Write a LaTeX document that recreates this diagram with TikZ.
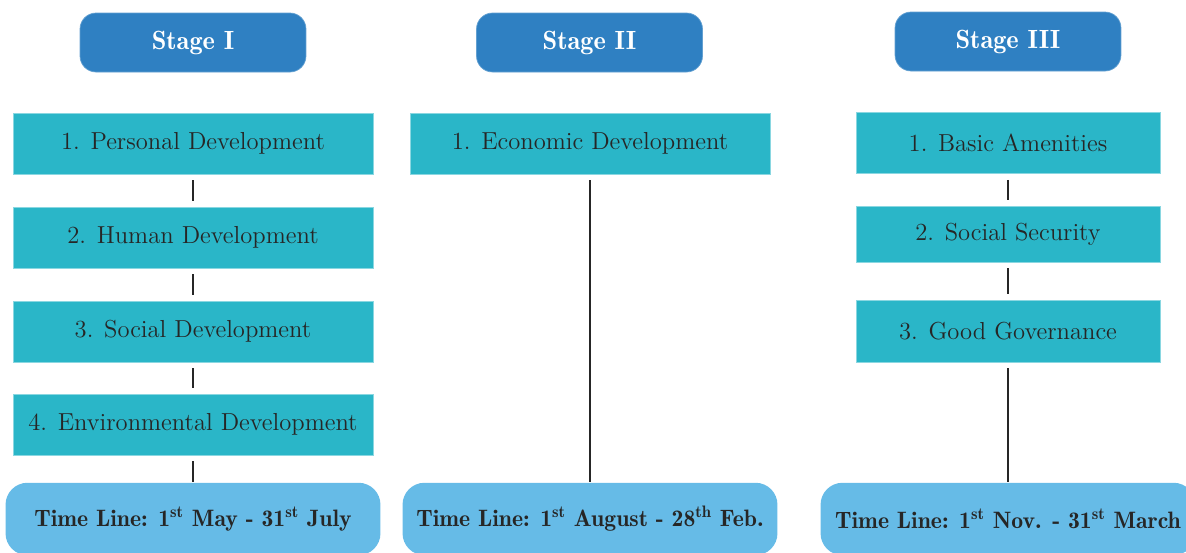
\documentclass[tikz,border=0pt]{standalone}
\usetikzlibrary{positioning}
\definecolor{stageblue}{HTML}{2F80C2}
\definecolor{itemteal}{HTML}{2AB6C8}
\definecolor{timeblue}{HTML}{66BBE7}
\definecolor{inkdark}{HTML}{262626}
\tikzset{
  stage/.style={rectangle, rounded corners=0.32cm, fill=stageblue, draw=stageblue!75!white,
    text=white, font=\fontseries{b}\fontsize{15}{17}\selectfont,
    minimum width=4.52cm, minimum height=1.18cm, inner sep=0pt},
  itembox/.style={rectangle, fill=itemteal, draw=itemteal!55!white, line width=0.5pt,
    text=inkdark, font=\fontsize{14}{16}\selectfont,
    minimum width=7.2cm, minimum height=1.22cm, inner sep=0pt},
  timeline/.style={rectangle, rounded corners=0.44cm, fill=timeblue,
    text=inkdark, font=\fontseries{b}\fontsize{13.5}{15}\selectfont,
    minimum width=7.5cm, minimum height=1.45cm, inner sep=0pt},
  link/.style={draw=inkdark, line width=0.8pt, shorten <=0.12cm, shorten >=0.12cm},
}
\begin{document}
\begin{tikzpicture}[x=0.02cm, y=-0.02cm]
    \clip (0,0) rectangle (1186,552);
    % stages
    \node[stage] (s1) at (193,42.5) {Stage I};
    \node[stage] (s2) at (589.5,42.5) {Stage II};
    \node[stage] (s3) at (1008,41.5) {Stage III};
    % stage I
    \node[itembox] (p1) at (193,143.5) {1. Personal Development};
    \node[itembox] (p2) at (193,237.5) {2. Human Development};
    \node[itembox] (p3) at (193,331.5) {3. Social Development};
    \node[itembox] (p4) at (193,424.5) {4. Environmental Development};
    \node[timeline] (t1) at (193,519) {Time Line: 1\textsuperscript{st} May - 31\textsuperscript{st} July};
    % stage II
    \node[itembox] (e1) at (590,143.5) {1. Economic Development};
    \node[timeline] (t2) at (590,519) {Time Line: 1\textsuperscript{st} August - 28\textsuperscript{th} Feb.};
    % stage III
    \node[itembox, minimum width=6.08cm] (g1) at (1008,143) {1. Basic Amenities};
    \node[itembox, minimum width=6.08cm, minimum height=1.12cm] (g2) at (1008,234) {2. Social Security};
    \node[itembox, minimum width=6.08cm, minimum height=1.24cm] (g3) at (1008,331) {3. Good Governance};
    \node[timeline] (t3) at (1008,519) {Time Line: 1\textsuperscript{st} Nov. - 31\textsuperscript{st} March};
    % links
    \foreach \a/\b in {p1/p2,p2/p3,p3/p4,g1/g2,g2/g3}
        { \draw[link] (\a.south) -- (\b.north); }
    \foreach \a/\b in {p4/t1,e1/t2,g3/t3}
        { \draw[link, shorten >=0pt] (\a.south) -- (\b.north); }
\end{tikzpicture}
\end{document}
